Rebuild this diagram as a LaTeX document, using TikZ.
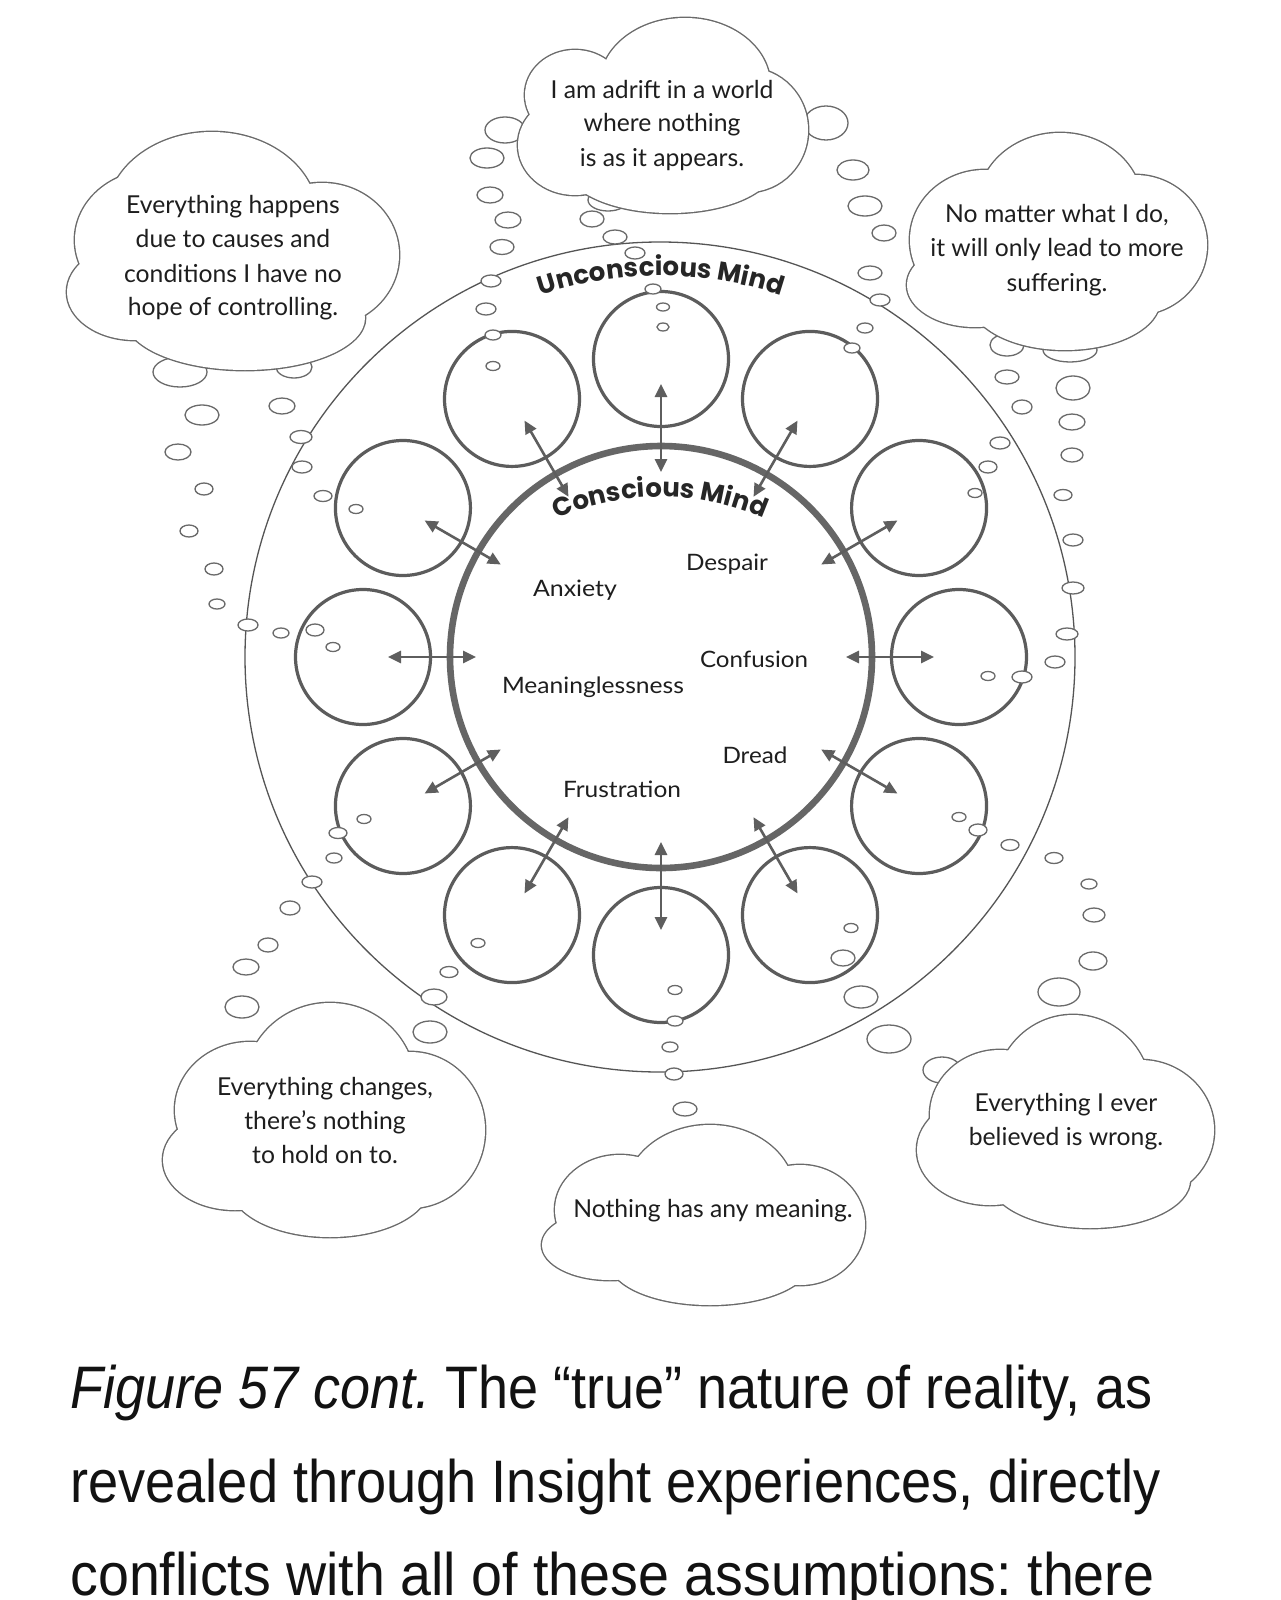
\documentclass[tikz,border=0pt]{standalone}
\usepackage{fontspec}
\usepackage{graphicx}
\usetikzlibrary{arrows.meta,decorations.text}
\newfontfamily\cloudfont{Lato}
\newfontfamily\mindfont{Poppins}
\newfontfamily\capfont{Liberation Sans}
\definecolor{circcol}{HTML}{5C5C5C}
\definecolor{innercol}{HTML}{666666}
\definecolor{outercol}{HTML}{555555}
\definecolor{arrcol}{HTML}{5E5E5E}
\definecolor{bubcol}{HTML}{6A6A6A}
\definecolor{txtcol}{HTML}{1E1E1E}
\definecolor{mindcol}{HTML}{262626}
\newsavebox\fitbox
\newcommand\fitto[2]{\sbox\fitbox{#2}\pgfmathsetmacro\fitfac{#1/\the\wd\fitbox}\scalebox{\fitfac}[1]{\usebox\fitbox}}
\newcommand\cloudshape[1]{%
  \foreach \cx/\cy/\rx/\ry in {#1} \draw[draw=bubcol, line width=1.4pt] (\cx,-\cy) ellipse[x radius=\rx, y radius=\ry];
  \foreach \cx/\cy/\rx/\ry in {#1} \fill[white] (\cx,-\cy) ellipse[x radius=\rx, y radius=\ry];
}
\tikzset{
  smallc/.style={circle, draw=circcol, line width=1.6pt, minimum size=67.5pt, inner sep=0pt},
  innerc/.style={circle, draw=innercol, line width=3.3pt, minimum size=211pt, inner sep=0pt},
  outerc/.style={circle, draw=outercol, line width=0.65pt, minimum size=415pt, inner sep=0pt},
  dblarrow/.style={draw=arrcol, line width=1.3pt, {Triangle[length=6.5pt,width=6pt]}-{Triangle[length=6.5pt,width=6pt]}},
  bub/.style={draw=bubcol, line width=0.65pt, fill=white},
  cloudtxt/.style={font=\cloudfont\fontsize{12.35pt}{17pt}\selectfont, text=txtcol, inner sep=0pt, anchor=base},
  lbl/.style={font=\cloudfont\fontsize{11.3pt}{13pt}\selectfont, text=txtcol, inner sep=0pt, anchor=base},
  capt/.style={font=\capfont\fontsize{30pt}{30pt}\selectfont\frenchspacing, text=black!93, inner sep=0pt, anchor=base west},
}
\begin{document}
\begin{tikzpicture}[x=0.5pt,y=0.5pt]
\useasboundingbox (0,0) rectangle (1280,-1600);
\fill[white] (0,0) rectangle (1280,-1600);
\coordinate (ctr) at (661,-657);
\coordinate (cc) at (660,-757);
% outer circle
\node[outerc] (outer) at (660,-657) {};
% small circles
\foreach \i in {0,...,11} {
  \pgfmathsetmacro\ang{\i*30}
  \node[smallc] (s\i) at ([shift={(\ang:298)}]ctr) {};
}
% inner circle
\node[innerc] (inner) at (ctr) {};
% arrows
\foreach \i in {0,...,11} {
  \pgfmathsetmacro\ang{\i*30}
  \coordinate (ai\i) at ([shift={(\ang:185)}]ctr);
  \coordinate (ao\i) at ([shift={(\ang:273)}]ctr);
  \draw[dblarrow] (ai\i) -- (ao\i);
}
% bubbles
\foreach \cx/\cy/\rx/\ry in {
663/327/6/4, 663/307/6.5/4, 653/289/8/5, 635/253/10/6, 615/237/12/7, 592/219/12/8, 608/200/20/11,
493/366/7/4.5, 493/335/8/5, 486/309/10/6, 491/281/10/6, 502/247/12/7.5, 508/220/13/8, 490/195/13/8, 487/158/17/10, 505/130/20/13,
852/348/8/5, 865/328/8/5, 880/300/10/6, 870/273/12/7, 884/233/12/8, 865/206/17/10, 853/170/16/10, 826/123/22/17,
356/509/7/4.5, 323/496/9/5.5, 302/467/10/6, 301/437/11/6.5, 282/406/13/8, 294/367/18/11,
333/647/7/4.5, 315/630/9/6, 281/633/8/5, 248/625/10/6, 217/604/8/5, 214/569/9/6, 189/531/9/6, 204/489/9/6, 178/452/13/8, 202/415/17/10, 180/372/27/15,
364/819/7/4.5, 338/833/9/5.5, 334/858/8/5, 312/882/10/6, 290/908/10/7, 268/945/10/7, 246/967/13/8, 242/1007/17/11,
478/943/7/4.5, 449/972/9/5.5, 434/997/13/8, 430/1032/17/11,
675/990/7/4.5, 675/1021/8/5, 670/1047/8/5, 674/1074/9/6, 685/1109/12/7,
851/928/7/4.5, 843/958/12/8, 861/997/17/11, 889/1039/22/14, 942/1070/19/13,
959/817/7/4.5, 978/830/9/6, 1010/845/9/5.5, 1054/858/9/5.5, 1089/884/8/5, 1094/915/11/7, 1093/961/14/9, 1059/992/21/14,
988/676/7/4.5, 1022/677/10/6, 1055/662/10/6, 1067/634/11/6, 1073/588/11/6, 1073/540/10/6, 1063/495/9/5.5, 1072/455/11/7, 1072/422/13/8, 1073/388/17/12, 1070/350/27/12,
975/493/7/4.5, 988/467/9/6, 1000/443/10/6, 1022/407/10/7, 1007/377/12/7, 1007/345/17/11}
  \draw[bub] (\cx,-\cy) ellipse[x radius=\rx, y radius=\ry];
% clouds
\cloudshape{212/215/105/83, 155/240/80/70, 135/292/68/48, 245/318/120/52, 322/255/77/72, 235/265/130/70}
\cloudshape{685/85/85/67, 575/95/50/45, 575/145/57/50, 748/130/60/62, 670/165/105/48, 665/130/110/55}
\cloudshape{1060/205/82/72, 985/240/75/70, 975/285/68/42, 1135/245/72/70, 1065/300/95/50, 1057/255/120/60}
\cloudshape{330/1085/85/82, 250/1110/75/68, 235/1160/72/50, 410/1130/75/78, 330/1185/100/52, 325/1140/130/65}
\cloudshape{710/1195/85/70, 620/1210/65/55, 610/1245/68/35, 800/1225/65/60, 710/1262/100/43, 705/1225/130/55}
\cloudshape{1073/1095/78/80, 1000/1115/70/65, 990/1150/73/55, 1140/1130/74/70, 1090/1180/100/48, 1066/1135/120/60}
% cloud texts
\node[cloudtxt] (c1a) at (233,-213) {Everything happens};
\node[cloudtxt] (c1b) at (233,-247) {due to causes and};
\node[cloudtxt] (c1c) at (233,-282) {conditions I have no};
\node[cloudtxt] (c1d) at (233,-315) {hope of controlling.};
\node[cloudtxt] (c3a) at (662,-98) {I am adrift in a world};
\node[cloudtxt] (c3b) at (662,-132) {where nothing};
\node[cloudtxt] (c3c) at (662,-166) {is as it appears.};
\node[cloudtxt] (c2a) at (1057,-222) {No matter what I do,};
\node[cloudtxt] (c2b) at (1057,-256) {it will only lead to more};
\node[cloudtxt] (c2c) at (1057,-291) {suffering.};
\node[cloudtxt] (c4a) at (325,-1095) {Everything changes,};
\node[cloudtxt] (c4b) at (325,-1129) {there’s nothing};
\node[cloudtxt] (c4c) at (325,-1163) {to hold on to.};
\node[cloudtxt] (c5a) at (713,-1217) {Nothing has any meaning.};
\node[cloudtxt] (c6a) at (1066,-1111) {Everything I ever};
\node[cloudtxt] (c6b) at (1066,-1145) {believed is wrong.};
% emotion labels
\node[lbl] (lanx) at (575,-596) {\fitto{42}{Anxiety}};
\node[lbl] (ldes) at (727,-570) {\fitto{41}{Despair}};
\node[lbl] (lcon) at (754,-667) {\fitto{54}{Confusion}};
\node[lbl] (lmea) at (593,-693) {\fitto{91}{Meaninglessness}};
\node[lbl] (ldre) at (755,-763) {\fitto{32.5}{Dread}};
\node[lbl] (lfru) at (622,-797) {\fitto{59}{Frustration}};
% curved titles
\path[decorate, decoration={text along path, text align=center, text color=mindcol,
  text={|\mindfont\bfseries\fontsize{13pt}{15pt}\selectfont|Unconscious Mind}}]
  ([shift={(150:381)}]ctr) arc[start angle=150, end angle=30, radius=381];
\path[decorate, decoration={text along path, text align=center, text color=mindcol,
  text={|\mindfont\bfseries\fontsize{13pt}{15pt}\selectfont|Conscious Mind}}]
  ([shift={(150:260)}]cc) arc[start angle=150, end angle=30, radius=260];
% caption
\node[capt] (cap1) at (70,-1408) {\fitto{541}{{\itshape Figure 57 cont.} The “true” nature of reality, as}};
\node[capt] (cap2) at (70,-1502) {\fitto{545}{revealed through Insight experiences, directly}};
\node[capt] (cap3) at (70,-1595) {\fitto{542}{conflicts with all of these assumptions: there}};
\end{tikzpicture}
\end{document}
